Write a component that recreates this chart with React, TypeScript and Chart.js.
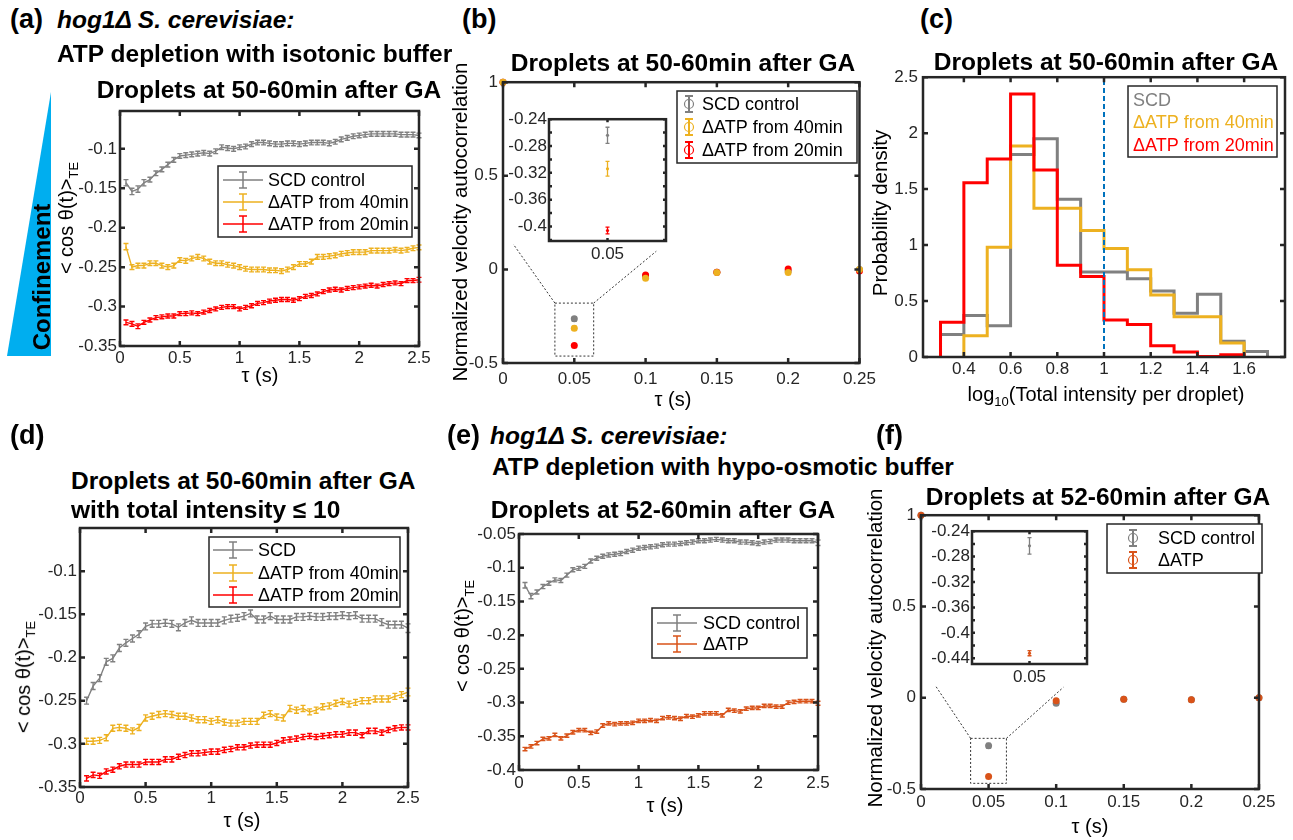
import React, { useEffect, useRef } from 'react';
import { Chart, registerables } from 'chart.js';

Chart.register(...registerables);

const FONT = '"Liberation Sans", Arial, Helvetica, sans-serif';
const AXC = '#262626';
const GRAY = '#808080';
const YELLOW = '#EDB120';
const RED = '#FF0000';
const ORANGE = '#D95319';
const DASH_BLUE = '#0072BD';
const CONF_BLUE = '#00AEEF';

// ---------- shared tick values ----------
const TAU = [0.05, 0.1, 0.15, 0.2, 0.25, 0.3, 0.35, 0.4, 0.45, 0.5,
  0.55, 0.6, 0.65, 0.7, 0.75, 0.8, 0.85, 0.9, 0.95, 1.0,
  1.05, 1.1, 1.15, 1.2, 1.25, 1.3, 1.35, 1.4, 1.45, 1.5,
  1.55, 1.6, 1.65, 1.7, 1.75, 1.8, 1.85, 1.9, 1.95, 2.0,
  2.05, 2.1, 2.15, 2.2, 2.25, 2.3, 2.35, 2.4, 2.45, 2.5];
const TAU_TICKS = [0, 0.5, 1, 1.5, 2, 2.5];
const LAG = [0, 0.05, 0.1, 0.15, 0.2, 0.25];
const LAG_TICKS = [0, 0.05, 0.1, 0.15, 0.2, 0.25];
const VAC_TICKS = [-0.5, 0, 0.5, 1];

// ---------- panel (a) ----------
const A_LABELS = ['SCD control', 'ΔATP from 40min', 'ΔATP from 20min'];
const A_YTICKS = [-0.35, -0.3, -0.25, -0.2, -0.15, -0.1];
const A_SCD = [-0.143, -0.154, -0.151, -0.143, -0.139, -0.131, -0.126, -0.120, -0.114, -0.109,
  -0.108, -0.107, -0.106, -0.105, -0.106, -0.103, -0.098, -0.099, -0.100, -0.098,
  -0.097, -0.094, -0.092, -0.092, -0.093, -0.094, -0.094, -0.093, -0.093, -0.094,
  -0.093, -0.092, -0.092, -0.092, -0.093, -0.091, -0.088, -0.086, -0.084, -0.083,
  -0.082, -0.081, -0.081, -0.081, -0.081, -0.081, -0.082, -0.082, -0.082, -0.083];
const A_ATP40 = [-0.224, -0.250, -0.248, -0.248, -0.245, -0.245, -0.248, -0.250, -0.248, -0.241,
  -0.242, -0.239, -0.237, -0.239, -0.243, -0.245, -0.245, -0.247, -0.248, -0.250,
  -0.252, -0.253, -0.253, -0.253, -0.254, -0.254, -0.255, -0.253, -0.250, -0.246,
  -0.246, -0.243, -0.237, -0.237, -0.236, -0.235, -0.233, -0.232, -0.231, -0.231,
  -0.231, -0.229, -0.229, -0.229, -0.229, -0.228, -0.229, -0.228, -0.226, -0.225];
const A_ATP20 = [-0.320, -0.322, -0.325, -0.320, -0.317, -0.314, -0.313, -0.312, -0.312, -0.309,
  -0.309, -0.308, -0.309, -0.307, -0.305, -0.303, -0.301, -0.300, -0.300, -0.303,
  -0.301, -0.299, -0.296, -0.295, -0.293, -0.292, -0.291, -0.291, -0.292, -0.290,
  -0.287, -0.286, -0.284, -0.281, -0.279, -0.278, -0.279, -0.277, -0.276, -0.275,
  -0.274, -0.273, -0.274, -0.272, -0.271, -0.270, -0.271, -0.267, -0.267, -0.266];
const A_SCD_ERR = [0.004, 0.004, 0.004, 0.004, 0.003, 0.003, 0.003, 0.003, 0.003, 0.003,
  0.003, 0.003, 0.003, 0.003, 0.003, 0.003, 0.003, 0.003, 0.003, 0.003,
  0.003, 0.003, 0.003, 0.003, 0.003, 0.003, 0.003, 0.003, 0.003, 0.003,
  0.003, 0.003, 0.003, 0.003, 0.003, 0.003, 0.003, 0.003, 0.003, 0.003,
  0.003, 0.003, 0.003, 0.003, 0.003, 0.003, 0.003, 0.003, 0.003, 0.003];
const A_ATP40_ERR = [0.004, 0.003, 0.003, 0.003, 0.003, 0.003, 0.003, 0.003, 0.003, 0.003,
  0.003, 0.003, 0.003, 0.003, 0.003, 0.003, 0.003, 0.003, 0.003, 0.003,
  0.003, 0.003, 0.003, 0.003, 0.003, 0.003, 0.003, 0.003, 0.003, 0.003,
  0.003, 0.003, 0.003, 0.003, 0.003, 0.003, 0.003, 0.003, 0.003, 0.003,
  0.003, 0.003, 0.003, 0.003, 0.003, 0.003, 0.003, 0.003, 0.003, 0.003];
const A_ATP20_ERR = [0.003, 0.003, 0.003, 0.0025, 0.0025, 0.0025, 0.0025, 0.0025, 0.0025, 0.0025,
  0.0025, 0.0025, 0.0025, 0.0025, 0.0025, 0.0025, 0.0025, 0.0025, 0.0025, 0.0025,
  0.0025, 0.0025, 0.0025, 0.0025, 0.0025, 0.0025, 0.0025, 0.0025, 0.0025, 0.0025,
  0.0025, 0.0025, 0.0025, 0.0025, 0.0025, 0.0025, 0.0025, 0.0025, 0.0025, 0.0025,
  0.0025, 0.0025, 0.0025, 0.0025, 0.0025, 0.0025, 0.0025, 0.0025, 0.0025, 0.003];

// ---------- panel (b) ----------
const B_SCD = [1, -0.264, -0.035, -0.015, -0.008, 0.0];
const B_ATP40 = [1, -0.314, -0.047, -0.017, -0.017, 0.0];
const B_ATP20 = [1, -0.406, -0.030, -0.015, 0.002, -0.008];
const B_SCD_ERR = [0, 0.012, 0.004, 0.003, 0.003, 0.003];
const B_ATP40_ERR = [0, 0.011, 0.004, 0.003, 0.003, 0.003];
const B_ATP20_ERR = [0, 0.005, 0.003, 0.003, 0.003, 0.003];
const B_INSET_YTICKS = [-0.42, -0.40, -0.38, -0.36, -0.34, -0.32, -0.30, -0.28, -0.26, -0.24];
const B_INSET_YLABELS = ['', '-0.4', '', '-0.36', '', '-0.32', '', '-0.28', '', '-0.24'];
const INSET_XTICKS = [0.05];

// ---------- panel (c) ----------
const C_LABELS = ['SCD', 'ΔATP from 40min', 'ΔATP from 20min'];
const C_XTICKS = [0.4, 0.6, 0.8, 1, 1.2, 1.4, 1.6];
const C_YTICKS = [0, 0.5, 1, 1.5, 2, 2.5];
const C_SCD_EDGES = [0.3, 0.4, 0.5, 0.6, 0.7, 0.8, 0.9, 1.0, 1.1, 1.2, 1.3, 1.4, 1.5, 1.6, 1.7];
const C_SCD = [0.20, 0.37, 0.28, 1.81, 1.95, 1.41, 0.76, 0.76, 0.70, 0.59, 0.39, 0.56, 0.14, 0.05];
const C_ATP40_EDGES = [0.4, 0.5, 0.6, 0.7, 0.8, 0.9, 1.0, 1.1, 1.2, 1.3, 1.4, 1.5, 1.6];
const C_ATP40 = [0.19, 0.98, 1.885, 1.33, 1.33, 1.13, 0.97, 0.78, 0.555, 0.36, 0.36, 0.125];
const C_ATP20_EDGES = [0.3, 0.4, 0.5, 0.6, 0.7, 0.8, 0.9, 1.0, 1.1, 1.2, 1.3, 1.4, 1.5, 1.6];
const C_ATP20 = [0.31, 1.556, 1.77, 2.35, 1.67, 0.82, 0.72, 0.33, 0.29, 0.10, 0.045, 0.005, 0.02];
const C_THRESHOLD = 1;

// ---------- panel (d) ----------
const D_LABELS = ['SCD', 'ΔATP from 40min', 'ΔATP from 20min'];
const D_SCD = [-0.250, -0.233, -0.224, -0.205, -0.201, -0.189, -0.183, -0.178, -0.173, -0.164,
  -0.161, -0.161, -0.160, -0.161, -0.165, -0.160, -0.157, -0.160, -0.160, -0.160,
  -0.160, -0.157, -0.155, -0.154, -0.152, -0.149, -0.156, -0.156, -0.152, -0.156,
  -0.156, -0.156, -0.153, -0.153, -0.152, -0.153, -0.153, -0.152, -0.152, -0.151,
  -0.152, -0.151, -0.155, -0.155, -0.155, -0.159, -0.162, -0.162, -0.162, -0.166];
const D_ATP40 = [-0.297, -0.297, -0.296, -0.293, -0.282, -0.281, -0.282, -0.285, -0.281, -0.270,
  -0.268, -0.266, -0.265, -0.266, -0.268, -0.268, -0.270, -0.272, -0.272, -0.274,
  -0.272, -0.275, -0.276, -0.276, -0.274, -0.274, -0.274, -0.267, -0.265, -0.269,
  -0.270, -0.259, -0.261, -0.259, -0.263, -0.261, -0.257, -0.256, -0.253, -0.251,
  -0.254, -0.252, -0.250, -0.250, -0.248, -0.248, -0.248, -0.245, -0.243, -0.240];
const D_ATP20 = [-0.340, -0.336, -0.337, -0.332, -0.330, -0.326, -0.324, -0.324, -0.324, -0.321,
  -0.321, -0.321, -0.318, -0.318, -0.315, -0.313, -0.311, -0.311, -0.310, -0.309,
  -0.309, -0.307, -0.306, -0.304, -0.304, -0.302, -0.301, -0.301, -0.301, -0.299,
  -0.296, -0.295, -0.294, -0.292, -0.291, -0.292, -0.291, -0.290, -0.289, -0.289,
  -0.287, -0.287, -0.290, -0.285, -0.285, -0.287, -0.284, -0.282, -0.281, -0.281];
const D_SCD_ERR = [0.004, 0.004, 0.004, 0.004, 0.004, 0.004, 0.004, 0.004, 0.004, 0.004,
  0.004, 0.004, 0.004, 0.004, 0.004, 0.004, 0.004, 0.004, 0.004, 0.004,
  0.004, 0.004, 0.004, 0.004, 0.004, 0.004, 0.004, 0.004, 0.004, 0.004,
  0.004, 0.004, 0.004, 0.004, 0.004, 0.004, 0.004, 0.004, 0.004, 0.004,
  0.004, 0.004, 0.004, 0.004, 0.004, 0.004, 0.004, 0.004, 0.004, 0.005];
const D_ATP40_ERR = [0.0035, 0.0035, 0.0035, 0.0035, 0.0035, 0.0035, 0.0035, 0.0035, 0.0035, 0.0035,
  0.0035, 0.0035, 0.0035, 0.0035, 0.0035, 0.0035, 0.0035, 0.0035, 0.0035, 0.0035,
  0.0035, 0.0035, 0.0035, 0.0035, 0.0035, 0.0035, 0.0035, 0.0035, 0.0035, 0.0035,
  0.0035, 0.0035, 0.0035, 0.0035, 0.0035, 0.0035, 0.0035, 0.0035, 0.0035, 0.0035,
  0.0035, 0.0035, 0.0035, 0.0035, 0.0035, 0.0035, 0.0035, 0.0035, 0.0035, 0.0045];
const D_ATP20_ERR = [0.003, 0.003, 0.003, 0.003, 0.003, 0.003, 0.003, 0.003, 0.003, 0.003,
  0.003, 0.003, 0.003, 0.003, 0.003, 0.003, 0.003, 0.003, 0.003, 0.003,
  0.003, 0.003, 0.003, 0.003, 0.003, 0.003, 0.003, 0.003, 0.003, 0.003,
  0.003, 0.003, 0.003, 0.003, 0.003, 0.003, 0.003, 0.003, 0.003, 0.003,
  0.003, 0.003, 0.003, 0.003, 0.003, 0.003, 0.003, 0.003, 0.003, 0.003];

// ---------- panel (e) ----------
const E_LABELS = ['SCD control', 'ΔATP'];
const E_YTICKS = [-0.4, -0.35, -0.3, -0.25, -0.2, -0.15, -0.1, -0.05];
const E_SCD = [-0.126, -0.142, -0.136, -0.128, -0.123, -0.118, -0.119, -0.111, -0.103, -0.101,
  -0.098, -0.090, -0.086, -0.083, -0.081, -0.080, -0.079, -0.076, -0.074, -0.071,
  -0.070, -0.069, -0.068, -0.066, -0.065, -0.065, -0.064, -0.063, -0.062, -0.060,
  -0.060, -0.059, -0.058, -0.059, -0.060, -0.060, -0.062, -0.062, -0.063, -0.064,
  -0.062, -0.061, -0.059, -0.059, -0.059, -0.060, -0.060, -0.060, -0.060, -0.063];
const E_ATP = [-0.369, -0.365, -0.360, -0.354, -0.353, -0.348, -0.353, -0.349, -0.344, -0.341,
  -0.341, -0.345, -0.343, -0.334, -0.331, -0.332, -0.331, -0.331, -0.330, -0.327,
  -0.327, -0.326, -0.327, -0.323, -0.322, -0.323, -0.324, -0.320, -0.321, -0.319,
  -0.316, -0.316, -0.316, -0.319, -0.311, -0.312, -0.313, -0.309, -0.308, -0.308,
  -0.305, -0.305, -0.306, -0.306, -0.300, -0.299, -0.298, -0.298, -0.298, -0.301];
const E_SCD_ERR = [0.004, 0.004, 0.003, 0.003, 0.003, 0.003, 0.003, 0.003, 0.003, 0.003,
  0.003, 0.003, 0.003, 0.003, 0.003, 0.003, 0.003, 0.003, 0.003, 0.003,
  0.003, 0.003, 0.003, 0.003, 0.003, 0.003, 0.003, 0.003, 0.003, 0.003,
  0.003, 0.003, 0.003, 0.003, 0.003, 0.003, 0.003, 0.003, 0.003, 0.003,
  0.003, 0.003, 0.003, 0.003, 0.003, 0.003, 0.003, 0.003, 0.003, 0.004];
const E_ATP_ERR = [0.0025, 0.0025, 0.0025, 0.0025, 0.0025, 0.0025, 0.0025, 0.0025, 0.0025, 0.0025,
  0.0025, 0.0025, 0.0025, 0.0025, 0.0025, 0.0025, 0.0025, 0.0025, 0.0025, 0.0025,
  0.0025, 0.0025, 0.0025, 0.0025, 0.0025, 0.0025, 0.0025, 0.0025, 0.0025, 0.0025,
  0.0025, 0.0025, 0.0025, 0.0025, 0.0025, 0.0025, 0.0025, 0.0025, 0.0025, 0.0025,
  0.0025, 0.0025, 0.0025, 0.0025, 0.0025, 0.0025, 0.0025, 0.0025, 0.0025, 0.003];

// ---------- panel (f) ----------
const F_SCD = [1, -0.263, -0.030, -0.008, -0.011, 0.0];
const F_ATP = [1, -0.432, -0.017, -0.008, -0.011, 0.0];
const F_SCD_ERR = [0, 0.013, 0.004, 0.003, 0.003, 0.003];
const F_ATP_ERR = [0, 0.004, 0.003, 0.002, 0.002, 0.002];
const F_INSET_YTICKS = [-0.44, -0.42, -0.40, -0.38, -0.36, -0.34, -0.32, -0.30, -0.28, -0.26, -0.24];
const F_INSET_YLABELS = ['-0.44', '', '-0.4', '', '-0.36', '', '-0.32', '', '-0.28', '', '-0.24'];

// ---------- helpers ----------
type Rect = { l: number; t: number; r: number; b: number };

function fmt(v: number) {
  return String(Number(Number(v).toFixed(4)));
}

function pts(xs: number[], ys: number[]) {
  return xs.map((x, i) => ({ x, y: ys[i] }));
}

function stairs(edges: number[], vals: number[]) {
  const out = [{ x: edges[0], y: 0 }];
  vals.forEach((v, i) => {
    out.push({ x: edges[i], y: v });
    out.push({ x: edges[i + 1], y: v });
  });
  out.push({ x: edges[edges.length - 1], y: 0 });
  return out;
}

function lineDs(label: string, xs: number[], ys: number[], color: string) {
  return { label, data: pts(xs, ys), showLine: true, borderColor: color, backgroundColor: color, borderWidth: 1.4, pointRadius: 0, tension: 0, clip: false };
}
function markerDs(label: string, xs: number[], ys: number[], color: string, r: number) {
  return { label, data: pts(xs, ys), showLine: false, borderColor: color, backgroundColor: color, pointRadius: r, pointBorderWidth: 0, clip: false };
}
function stairDs(label: string, edges: number[], vals: number[], color: string) {
  return { label, data: stairs(edges, vals), showLine: true, borderColor: color, backgroundColor: color, borderWidth: 3, pointRadius: 0, tension: 0, clip: false, borderJoinStyle: 'miter' };
}

function scaleCfg(axis: 'x' | 'y', min: number, max: number, ticks: number[], labels: string[] | null, pad: number, fit: number, size: number) {
  return {
    type: 'linear',
    position: axis === 'x' ? 'bottom' : 'left',
    min, max,
    afterBuildTicks: (s: any) => { s.ticks = ticks.map((v) => ({ value: v })); },
    afterFit: (s: any) => { if (axis === 'x') s.height = fit; else s.width = fit; },
    grid: { display: false, drawTicks: false },
    border: { display: false },
    ticks: {
      padding: pad, color: AXC, font: { family: FONT, size },
      autoSkip: false, maxRotation: 0, minRotation: 0,
      callback: (v: any, i: number) => (labels ? labels[i] : fmt(v)),
    },
  };
}

function figPlugin(spec: any, ox: number, oy: number) {
  return {
    id: 'figdecor',
    beforeDraw(chart: any) {
      if (!spec.whiteBg) return;
      const a = chart.chartArea; const ctx = chart.ctx;
      ctx.save(); ctx.fillStyle = '#fff';
      ctx.fillRect(a.left, a.top, a.right - a.left, a.bottom - a.top);
      ctx.restore();
    },
    beforeDatasetDraw(chart: any, args: any) {
      const e = spec.errors && spec.errors[args.index];
      if (!e) return;
      const ds = chart.data.datasets[args.index];
      const ys = chart.scales.y; const ctx = chart.ctx;
      ctx.save(); ctx.strokeStyle = ds.borderColor; ctx.lineWidth = e.width;
      ctx.beginPath();
      args.meta.data.forEach((pt: any, i: number) => {
        const err = e.errs[i]; if (!err) return;
        const v = ds.data[i].y;
        const yA = ys.getPixelForValue(v - err); const yB = ys.getPixelForValue(v + err);
        ctx.moveTo(pt.x, yA); ctx.lineTo(pt.x, yB);
        ctx.moveTo(pt.x - e.cap, yA); ctx.lineTo(pt.x + e.cap, yA);
        ctx.moveTo(pt.x - e.cap, yB); ctx.lineTo(pt.x + e.cap, yB);
      });
      ctx.stroke(); ctx.restore();
    },
    afterDraw(chart: any) {
      const ctx = chart.ctx; const a = chart.chartArea;
      const xs = chart.scales.x; const ys = chart.scales.y;
      (spec.ann || []).forEach((an: any) => {
        ctx.save(); ctx.strokeStyle = an.color; ctx.lineWidth = an.width; ctx.setLineDash(an.dash);
        ctx.beginPath();
        if (an.kind === 'rect') {
          const x1 = xs.getPixelForValue(an.x1); const x2 = xs.getPixelForValue(an.x2);
          const y1 = ys.getPixelForValue(an.y1); const y2 = ys.getPixelForValue(an.y2);
          ctx.rect(x1, y2, x2 - x1, y1 - y2);
        } else {
          ctx.moveTo(xs.getPixelForValue(an.x1), ys.getPixelForValue(an.y1));
          ctx.lineTo(xs.getPixelForValue(an.x2), ys.getPixelForValue(an.y2));
        }
        ctx.stroke(); ctx.restore();
      });
      // frame + inward ticks
      const L = spec.tickLen ?? 5;
      ctx.save(); ctx.strokeStyle = AXC; ctx.lineWidth = spec.frameW ?? 2.5;
      ctx.beginPath();
      xs.ticks.forEach((t: any) => {
        const x = xs.getPixelForValue(t.value);
        ctx.moveTo(x, a.bottom); ctx.lineTo(x, a.bottom - L);
        ctx.moveTo(x, a.top); ctx.lineTo(x, a.top + L);
      });
      ys.ticks.forEach((t: any) => {
        const y = ys.getPixelForValue(t.value);
        ctx.moveTo(a.left, y); ctx.lineTo(a.left + L, y);
        ctx.moveTo(a.right, y); ctx.lineTo(a.right - L, y);
      });
      ctx.stroke();
      ctx.strokeRect(a.left, a.top, a.right - a.left, a.bottom - a.top);
      ctx.restore();
      // legend
      const lg = spec.legend;
      if (lg) {
        const [x1, y1, x2, y2] = lg.box;
        ctx.save();
        ctx.fillStyle = '#fff'; ctx.fillRect(x1 - ox, y1 - oy, x2 - x1, y2 - y1);
        ctx.strokeStyle = AXC; ctx.lineWidth = 1.5; ctx.strokeRect(x1 - ox, y1 - oy, x2 - x1, y2 - y1);
        ctx.font = `${lg.size}px ${FONT}`; ctx.textBaseline = 'middle'; ctx.textAlign = 'left';
        lg.items.forEach((it: any, i: number) => {
          const y = lg.rows[i] - oy;
          ctx.strokeStyle = it.color;
          if (lg.kind === 'line') {
            const xa = lg.sx1 - ox; const xb = lg.sx2 - ox; const xm = (xa + xb) / 2;
            ctx.lineWidth = 1.5; ctx.beginPath();
            ctx.moveTo(xa, y); ctx.lineTo(xb, y);
            ctx.moveTo(xm, y - 8); ctx.lineTo(xm, y + 8);
            ctx.moveTo(xm - 4, y - 8); ctx.lineTo(xm + 4, y - 8);
            ctx.moveTo(xm - 4, y + 8); ctx.lineTo(xm + 4, y + 8);
            ctx.stroke();
          } else if (lg.kind === 'marker') {
            const xm = lg.sx - ox;
            ctx.lineWidth = 2; ctx.beginPath();
            ctx.moveTo(xm, y - 8); ctx.lineTo(xm, y + 8);
            ctx.moveTo(xm - 4, y - 8); ctx.lineTo(xm + 4, y - 8);
            ctx.moveTo(xm - 4, y + 8); ctx.lineTo(xm + 4, y + 8);
            ctx.stroke();
            ctx.lineWidth = 1.2; ctx.beginPath(); ctx.arc(xm, y, 4.5, 0, Math.PI * 2); ctx.stroke();
          }
          ctx.fillStyle = lg.kind === 'text' ? it.color : '#000';
          ctx.fillText(it.label, lg.tx - ox, y + 1);
        });
        ctx.restore();
      }
    },
  };
}

function ChartCanvas({ plot, m, spec }: { plot: Rect; m: Rect; spec: any }) {
  const ref = useRef<HTMLCanvasElement | null>(null);
  const left = plot.l - m.l;
  const top = plot.t - m.t;
  const W = plot.r - plot.l + m.l + m.r;
  const H = plot.b - plot.t + m.t + m.b;
  useEffect(() => {
    if (!ref.current) return;
    const cfg: any = {
      type: 'scatter',
      data: { datasets: spec.datasets },
      options: {
        responsive: false,
        animation: false,
        events: [],
        devicePixelRatio: 1,
        layout: { padding: { left: 0, top: m.t, right: m.r, bottom: 0 }, autoPadding: false },
        plugins: { legend: { display: false }, tooltip: { enabled: false }, title: { display: false } },
        scales: {
          x: scaleCfg('x', spec.x.min, spec.x.max, spec.x.ticks, spec.x.labels || null, spec.x.pad, m.b, spec.fontSize || 17),
          y: scaleCfg('y', spec.y.min, spec.y.max, spec.y.ticks, spec.y.labels || null, spec.y.pad, m.l, spec.fontSize || 17),
        },
      },
      plugins: [figPlugin(spec, left, top)],
    };
    const chart = new Chart(ref.current, cfg);
    return () => chart.destroy();
  }, []);
  return <canvas ref={ref} width={W} height={H} style={{ position: 'absolute', left, top, width: W, height: H }} />;
}

function Txt({ x, y, size, bold = false, italic = false, anchor = 'start', rot = false, color = '#000', children }: any) {
  const sx = anchor === 'middle' ? '-50%' : anchor === 'end' ? '-100%' : '0px';
  const transform = `${rot ? 'rotate(-90deg) ' : ''}translate(${sx}, ${-0.8465 * size}px)`;
  return (
    <div style={{ position: 'absolute', left: x, top: y, width: 0, height: 0 }}>
      <div style={{ position: 'absolute', left: 0, top: 0, transformOrigin: '0 0', transform, whiteSpace: 'nowrap', fontFamily: FONT, fontSize: size, lineHeight: `${size}px`, fontWeight: bold ? 700 : 400, fontStyle: italic ? 'italic' : 'normal', color }}>{children}</div>
    </div>
  );
}
const Sub = ({ children }: any) => <span style={{ fontSize: '0.65em', position: 'relative', top: '0.35em' }}>{children}</span>;

// ---------- panel specs ----------
const M_MAIN = { l: 70, t: 15, r: 20, b: 40 };
const M_EDGE = { l: 70, t: 15, r: 8, b: 40 };
const M_INSET = { l: 55, t: 8, r: 6, b: 24 };

const PLOT_A = { l: 120, t: 111, r: 419, b: 346 };
const PLOT_B = { l: 503, t: 82, r: 862, b: 363 };
const PLOT_B_IN = { l: 549, t: 115, r: 666, b: 241 };
const PLOT_C = { l: 923, t: 77, r: 1285, b: 357 };
const PLOT_D = { l: 80, t: 528, r: 408, b: 787 };
const PLOT_E = { l: 519, t: 534, r: 818, b: 770 };
const PLOT_F = { l: 921, t: 515, r: 1271, b: 789 };
const PLOT_F_IN = { l: 972, t: 527, r: 1087, b: 664 };

const SPEC_A = {
  x: { min: 0, max: 2.5, ticks: TAU_TICKS, pad: 2.5 },
  y: { min: -0.35, max: -0.052, ticks: A_YTICKS, pad: 3 },
  datasets: [lineDs(A_LABELS[0], TAU, A_SCD, GRAY), lineDs(A_LABELS[1], TAU, A_ATP40, YELLOW), lineDs(A_LABELS[2], TAU, A_ATP20, RED)],
  errors: { 0: { errs: A_SCD_ERR, cap: 2.5, width: 1.4 }, 1: { errs: A_ATP40_ERR, cap: 2.5, width: 1.4 }, 2: { errs: A_ATP20_ERR, cap: 2.5, width: 1.4 } },
  legend: { kind: 'line', box: [218, 166, 412, 237], rows: [180, 202, 224], sx1: 223, sx2: 263, tx: 268, size: 18,
    items: [{ label: A_LABELS[0], color: GRAY }, { label: A_LABELS[1], color: YELLOW }, { label: A_LABELS[2], color: RED }] },
};

const SPEC_B = {
  x: { min: 0, max: 0.25, ticks: LAG_TICKS, pad: 6 },
  y: { min: -0.5, max: 1, ticks: VAC_TICKS, pad: 5 },
  datasets: [markerDs(A_LABELS[1], LAG, B_ATP40, YELLOW, 3.5), markerDs(A_LABELS[2], LAG, B_ATP20, RED, 3.5), markerDs(A_LABELS[0], LAG, B_SCD, GRAY, 3.5)],
  errors: { 0: { errs: B_ATP40_ERR, cap: 2.5, width: 1.2 }, 1: { errs: B_ATP20_ERR, cap: 2.5, width: 1.2 }, 2: { errs: B_SCD_ERR, cap: 2.5, width: 1.2 } },
  ann: [
    { kind: 'rect', x1: 0.0364, x2: 0.0636, y1: -0.463, y2: -0.18, color: '#333', width: 1, dash: [2, 2] },
    { kind: 'line', x1: 0.0364, y1: -0.18, x2: 0.0072, y2: 0.135, color: '#333', width: 1, dash: [2, 2] },
    { kind: 'line', x1: 0.0636, y1: -0.18, x2: 0.1075, y2: 0.097, color: '#333', width: 1, dash: [2, 2] },
  ],
  legend: { kind: 'marker', box: [677, 91, 857, 163], rows: [104, 127, 150], sx: 689, tx: 702, size: 18,
    items: [{ label: A_LABELS[0], color: GRAY }, { label: A_LABELS[1], color: YELLOW }, { label: A_LABELS[2], color: RED }] },
};

const SPEC_B_IN = {
  whiteBg: true, tickLen: 3,
  x: { min: 0.04, max: 0.06, ticks: INSET_XTICKS, pad: 3 },
  y: { min: -0.4216, max: -0.24, ticks: B_INSET_YTICKS, labels: B_INSET_YLABELS, pad: 2 },
  datasets: [markerDs(A_LABELS[1], [LAG[1]], [B_ATP40[1]], YELLOW, 1.6), markerDs(A_LABELS[2], [LAG[1]], [B_ATP20[1]], RED, 1.6), markerDs(A_LABELS[0], [LAG[1]], [B_SCD[1]], GRAY, 1.6)],
  errors: { 0: { errs: [B_ATP40_ERR[1]], cap: 2, width: 1.3 }, 1: { errs: [B_ATP20_ERR[1]], cap: 2, width: 1.3 }, 2: { errs: [B_SCD_ERR[1]], cap: 2, width: 1.3 } },
};

const SPEC_C = {
  x: { min: 0.225, max: 1.775, ticks: C_XTICKS, pad: 2 },
  y: { min: 0, max: 2.5, ticks: C_YTICKS, pad: 5 },
  datasets: [stairDs(C_LABELS[2], C_ATP20_EDGES, C_ATP20, RED), stairDs(C_LABELS[1], C_ATP40_EDGES, C_ATP40, YELLOW), stairDs(C_LABELS[0], C_SCD_EDGES, C_SCD, GRAY)],
  ann: [{ kind: 'line', x1: C_THRESHOLD, y1: 0, x2: C_THRESHOLD, y2: 2.5, color: DASH_BLUE, width: 2, dash: [5, 3] }],
  legend: { kind: 'text', box: [1128, 86, 1277, 157], rows: [100, 122, 145], tx: 1133, size: 18,
    items: [{ label: C_LABELS[0], color: GRAY }, { label: C_LABELS[1], color: YELLOW }, { label: C_LABELS[2], color: RED }] },
};

const SPEC_D = {
  x: { min: 0, max: 2.5, ticks: TAU_TICKS, pad: 1 },
  y: { min: -0.35, max: -0.05, ticks: A_YTICKS, pad: 3 },
  datasets: [lineDs(D_LABELS[0], TAU, D_SCD, GRAY), lineDs(D_LABELS[1], TAU, D_ATP40, YELLOW), lineDs(D_LABELS[2], TAU, D_ATP20, RED)],
  errors: { 0: { errs: D_SCD_ERR, cap: 2.5, width: 1.4 }, 1: { errs: D_ATP40_ERR, cap: 2.5, width: 1.4 }, 2: { errs: D_ATP20_ERR, cap: 2.5, width: 1.4 } },
  legend: { kind: 'line', box: [209, 537, 400, 607], rows: [550, 573, 595], sx1: 213, sx2: 253, tx: 258, size: 18,
    items: [{ label: D_LABELS[0], color: GRAY }, { label: D_LABELS[1], color: YELLOW }, { label: D_LABELS[2], color: RED }] },
};

const SPEC_E = {
  x: { min: 0, max: 2.5, ticks: TAU_TICKS, pad: 3 },
  y: { min: -0.4, max: -0.05, ticks: E_YTICKS, pad: 3 },
  datasets: [lineDs(E_LABELS[0], TAU, E_SCD, GRAY), lineDs(E_LABELS[1], TAU, E_ATP, ORANGE)],
  errors: { 0: { errs: E_SCD_ERR, cap: 2.5, width: 1.4 }, 1: { errs: E_ATP_ERR, cap: 2.5, width: 1.4 } },
  legend: { kind: 'line', box: [652, 608, 807, 658], rows: [623, 644], sx1: 657, sx2: 697, tx: 703, size: 18,
    items: [{ label: E_LABELS[0], color: GRAY }, { label: E_LABELS[1], color: ORANGE }] },
};

const SPEC_F = {
  x: { min: 0, max: 0.25, ticks: LAG_TICKS, pad: 3.5 },
  y: { min: -0.5, max: 1, ticks: VAC_TICKS, pad: 5 },
  datasets: [markerDs(E_LABELS[1], LAG, F_ATP, ORANGE, 3.5), markerDs(E_LABELS[0], LAG, F_SCD, GRAY, 3.5)],
  errors: { 0: { errs: F_ATP_ERR, cap: 2.5, width: 1.2 }, 1: { errs: F_SCD_ERR, cap: 2.5, width: 1.2 } },
  ann: [
    { kind: 'rect', x1: 0.0367, x2: 0.0632, y1: -0.469, y2: -0.2225, color: '#333', width: 1, dash: [2, 2] },
    { kind: 'line', x1: 0.0367, y1: -0.2225, x2: 0.0112, y2: 0.06, color: '#333', width: 1, dash: [2, 2] },
    { kind: 'line', x1: 0.0632, y1: -0.2225, x2: 0.1053, y2: 0.057, color: '#333', width: 1, dash: [2, 2] },
  ],
  legend: { kind: 'marker', box: [1107, 524, 1262, 573], rows: [538, 560], sx: 1133, tx: 1158, size: 18,
    items: [{ label: E_LABELS[0], color: GRAY }, { label: E_LABELS[1], color: ORANGE }] },
};

const SPEC_F_IN = {
  whiteBg: true, tickLen: 3,
  x: { min: 0.04, max: 0.06, ticks: INSET_XTICKS, pad: 3 },
  y: { min: -0.449, max: -0.24, ticks: F_INSET_YTICKS, labels: F_INSET_YLABELS, pad: 2 },
  datasets: [markerDs(E_LABELS[1], [LAG[1]], [F_ATP[1]], ORANGE, 1.6), markerDs(E_LABELS[0], [LAG[1]], [F_SCD[1]], GRAY, 1.6)],
  errors: { 0: { errs: [F_ATP_ERR[1]], cap: 2, width: 1.3 }, 1: { errs: [F_SCD_ERR[1]], cap: 2, width: 1.3 } },
};

const YLAB_COS = <>{'< cos θ(t)>'}<Sub>TE</Sub></>;

export default function App() {
  return (
    <div style={{ position: 'absolute', left: 0, top: 0, width: 1293, height: 840, overflow: 'hidden', background: '#fff' }}>
      <div style={{ position: 'absolute', left: 7, top: 92, width: 44, height: 264, background: CONF_BLUE, clipPath: 'polygon(0 100%, 100% 100%, 100% 0)' }} />

      <ChartCanvas plot={PLOT_A} m={M_MAIN} spec={SPEC_A} />
      <ChartCanvas plot={PLOT_B} m={M_MAIN} spec={SPEC_B} />
      <ChartCanvas plot={PLOT_B_IN} m={M_INSET} spec={SPEC_B_IN} />
      <ChartCanvas plot={PLOT_C} m={M_EDGE} spec={SPEC_C} />
      <ChartCanvas plot={PLOT_D} m={M_MAIN} spec={SPEC_D} />
      <ChartCanvas plot={PLOT_E} m={M_MAIN} spec={SPEC_E} />
      <ChartCanvas plot={PLOT_F} m={M_EDGE} spec={SPEC_F} />
      <ChartCanvas plot={PLOT_F_IN} m={M_INSET} spec={SPEC_F_IN} />

      {/* top row headings */}
      <Txt x={10} y={29} size={27} bold>(a)</Txt>
      <Txt x={57} y={29} size={24.5} bold italic>hog1Δ S. cerevisiae:</Txt>
      <Txt x={57} y={63} size={24.5} bold>ATP depletion with isotonic buffer</Txt>
      <Txt x={269} y={99} size={24.5} bold anchor="middle">Droplets at 50-60min after GA</Txt>
      <Txt x={260} y={382} size={20} anchor="middle">τ (s)</Txt>
      <Txt x={73} y={218} size={20} anchor="middle" rot>{YLAB_COS}</Txt>
      <Txt x={50} y={277} size={24} bold anchor="middle" rot>Confinement</Txt>

      <Txt x={462} y={29} size={27} bold>(b)</Txt>
      <Txt x={683} y={72} size={24.5} bold anchor="middle">Droplets at 50-60min after GA</Txt>
      <Txt x={467} y={222} size={20.5} anchor="middle" rot>Normalized velocity autocorrelation</Txt>
      <Txt x={673} y={406} size={20} anchor="middle">τ (s)</Txt>

      <Txt x={920} y={29} size={27} bold>(c)</Txt>
      <Txt x={1106} y={71} size={24.5} bold anchor="middle">Droplets at 50-60min after GA</Txt>
      <Txt x={887} y={213} size={20.5} anchor="middle" rot>Probability density</Txt>
      <Txt x={1106} y={401} size={20} anchor="middle">log<Sub>10</Sub>(Total intensity per droplet)</Txt>

      {/* bottom row */}
      <Txt x={10} y={445} size={27} bold>(d)</Txt>
      <Txt x={71} y={490} size={24.5} bold>Droplets at 50-60min after GA</Txt>
      <Txt x={71} y={519} size={24.5} bold>with total intensity ≤ 10</Txt>
      <Txt x={30} y={677} size={20} anchor="middle" rot>{YLAB_COS}</Txt>
      <Txt x={242} y={827} size={20} anchor="middle">τ (s)</Txt>

      <Txt x={447} y={445} size={27} bold>(e)</Txt>
      <Txt x={490} y={445} size={24.5} bold italic>hog1Δ S. cerevisiae:</Txt>
      <Txt x={492} y={476} size={24.5} bold>ATP depletion with hypo-osmotic buffer</Txt>
      <Txt x={663} y={519} size={24.5} bold anchor="middle">Droplets at 52-60min after GA</Txt>
      <Txt x={469} y={636} size={20} anchor="middle" rot>{YLAB_COS}</Txt>
      <Txt x={665} y={812} size={20} anchor="middle">τ (s)</Txt>

      <Txt x={876} y={445} size={27} bold>(f)</Txt>
      <Txt x={1098} y={506} size={24.5} bold anchor="middle">Droplets at 52-60min after GA</Txt>
      <Txt x={882} y={648} size={20.5} anchor="middle" rot>Normalized velocity autocorrelation</Txt>
      <Txt x={1090} y={833} size={20} anchor="middle">τ (s)</Txt>
    </div>
  );
}
